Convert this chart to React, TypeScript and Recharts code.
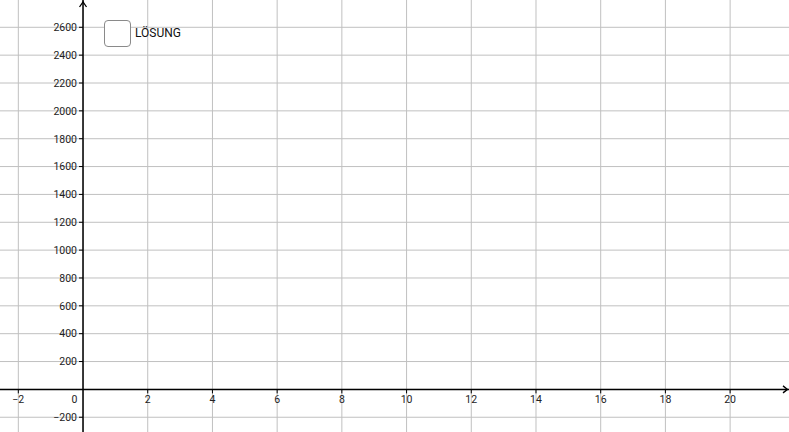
import React from 'react';
import { ComposedChart, XAxis, YAxis, ReferenceLine, ReferenceDot } from 'recharts';

const W = 789;
const H = 432;

// sichtbarer Bereich
const xDomain: [number, number] = [-2.566, 21.82];
const yDomain: [number, number] = [-306, 2796];

const xGrid = [-2, 0, 2, 4, 6, 8, 10, 12, 14, 16, 18, 20];
const yGrid = [-200, 0, 200, 400, 600, 800, 1000, 1200, 1400, 1600, 1800, 2000, 2200, 2400, 2600];
const xLabels = [-2, 2, 4, 6, 8, 10, 12, 14, 16, 18, 20];
const yLabels = [-200, 200, 400, 600, 800, 1000, 1200, 1400, 1600, 1800, 2000, 2200, 2400, 2600];

const gridColor = '#c0c0c0';
const font = 'Roboto, "Liberation Sans", Arial, sans-serif';
const fmt = (v: number) => (v < 0 ? '\u2212' + Math.abs(v) : String(v));

export default function App() {
  return (
    <div style={{ position: 'fixed', left: 0, top: 0, width: W, height: H, background: '#fff' }}>
      <ComposedChart width={W} height={H} data={[]} margin={{ top: 0, right: 0, bottom: 0, left: 0 }}>
        <XAxis type="number" dataKey="x" domain={xDomain} allowDataOverflow hide />
        <YAxis type="number" dataKey="y" domain={yDomain} allowDataOverflow hide />

        {/* Gitter */}
        {xGrid.map(v => (
          <ReferenceLine key={'gx' + v} x={v} stroke={gridColor} strokeWidth={1} />
        ))}
        {yGrid.map(v => (
          <ReferenceLine key={'gy' + v} y={v} stroke={gridColor} strokeWidth={1} />
        ))}

        {/* Achsen */}
        <ReferenceLine y={0} stroke="#000" strokeWidth={1.5} />
        <ReferenceLine x={0} stroke="#000" strokeWidth={1.5} />

        {/* Pfeilspitzen */}
        <ReferenceDot
          x={xDomain[1]}
          y={0}
          r={0}
          shape={(p: any) => (
            <path
              d={`M${p.cx - 6},${p.cy - 3.5} L${p.cx - 1.5},${p.cy} L${p.cx - 6},${p.cy + 3.5}`}
              fill="none"
              stroke="#000"
              strokeWidth={1.3}
            />
          )}
        />
        <ReferenceDot
          x={0}
          y={yDomain[1]}
          r={0}
          shape={(p: any) => (
            <path
              d={`M${p.cx - 3.5},${p.cy + 7} L${p.cx},${p.cy + 2} L${p.cx + 3.5},${p.cy + 7}`}
              fill="none"
              stroke="#000"
              strokeWidth={1.3}
            />
          )}
        />

        {/* x-Beschriftung */}
        {xLabels.map(v => (
          <ReferenceDot
            key={'lx' + v}
            x={v}
            y={0}
            r={0}
            shape={(p: any) => (
              <g>
                <line x1={p.cx} y1={p.cy} x2={p.cx} y2={p.cy + 4} stroke="#000" strokeWidth={1} />
                <text x={p.cx} y={p.cy + 14} textAnchor="middle" fontFamily={font} fontSize={10.5} fill="#222">
                  {fmt(v)}
                </text>
              </g>
            )}
          />
        ))}
        <ReferenceDot
          x={0}
          y={0}
          r={0}
          shape={(p: any) => (
            <text x={p.cx - 8.5} y={p.cy + 14} textAnchor="middle" fontFamily={font} fontSize={10.5} fill="#222">
              0
            </text>
          )}
        />

        {/* y-Beschriftung */}
        {yLabels.map(v => (
          <ReferenceDot
            key={'ly' + v}
            x={0}
            y={v}
            r={0}
            shape={(p: any) => (
              <g>
                <line x1={p.cx - 4} y1={p.cy} x2={p.cx} y2={p.cy} stroke="#000" strokeWidth={1} />
                <text x={p.cx - 6} y={p.cy + 3.8} textAnchor="end" fontFamily={font} fontSize={10.5} fill="#222">
                  {fmt(v)}
                </text>
              </g>
            )}
          />
        ))}
      </ComposedChart>

      {/* Kontrollkästchen */}
      <div
        style={{
          position: 'absolute',
          left: 104,
          top: 20,
          width: 27,
          height: 27,
          boxSizing: 'border-box',
          border: '1.5px solid #8a8a8a',
          borderRadius: 4,
          background: '#fff',
        }}
      />
      <div
        style={{
          position: 'absolute',
          left: 135,
          top: 26,
          fontFamily: font,
          fontSize: 12,
          lineHeight: '14px',
          color: '#111',
        }}
      >
        LÖSUNG
      </div>
    </div>
  );
}
